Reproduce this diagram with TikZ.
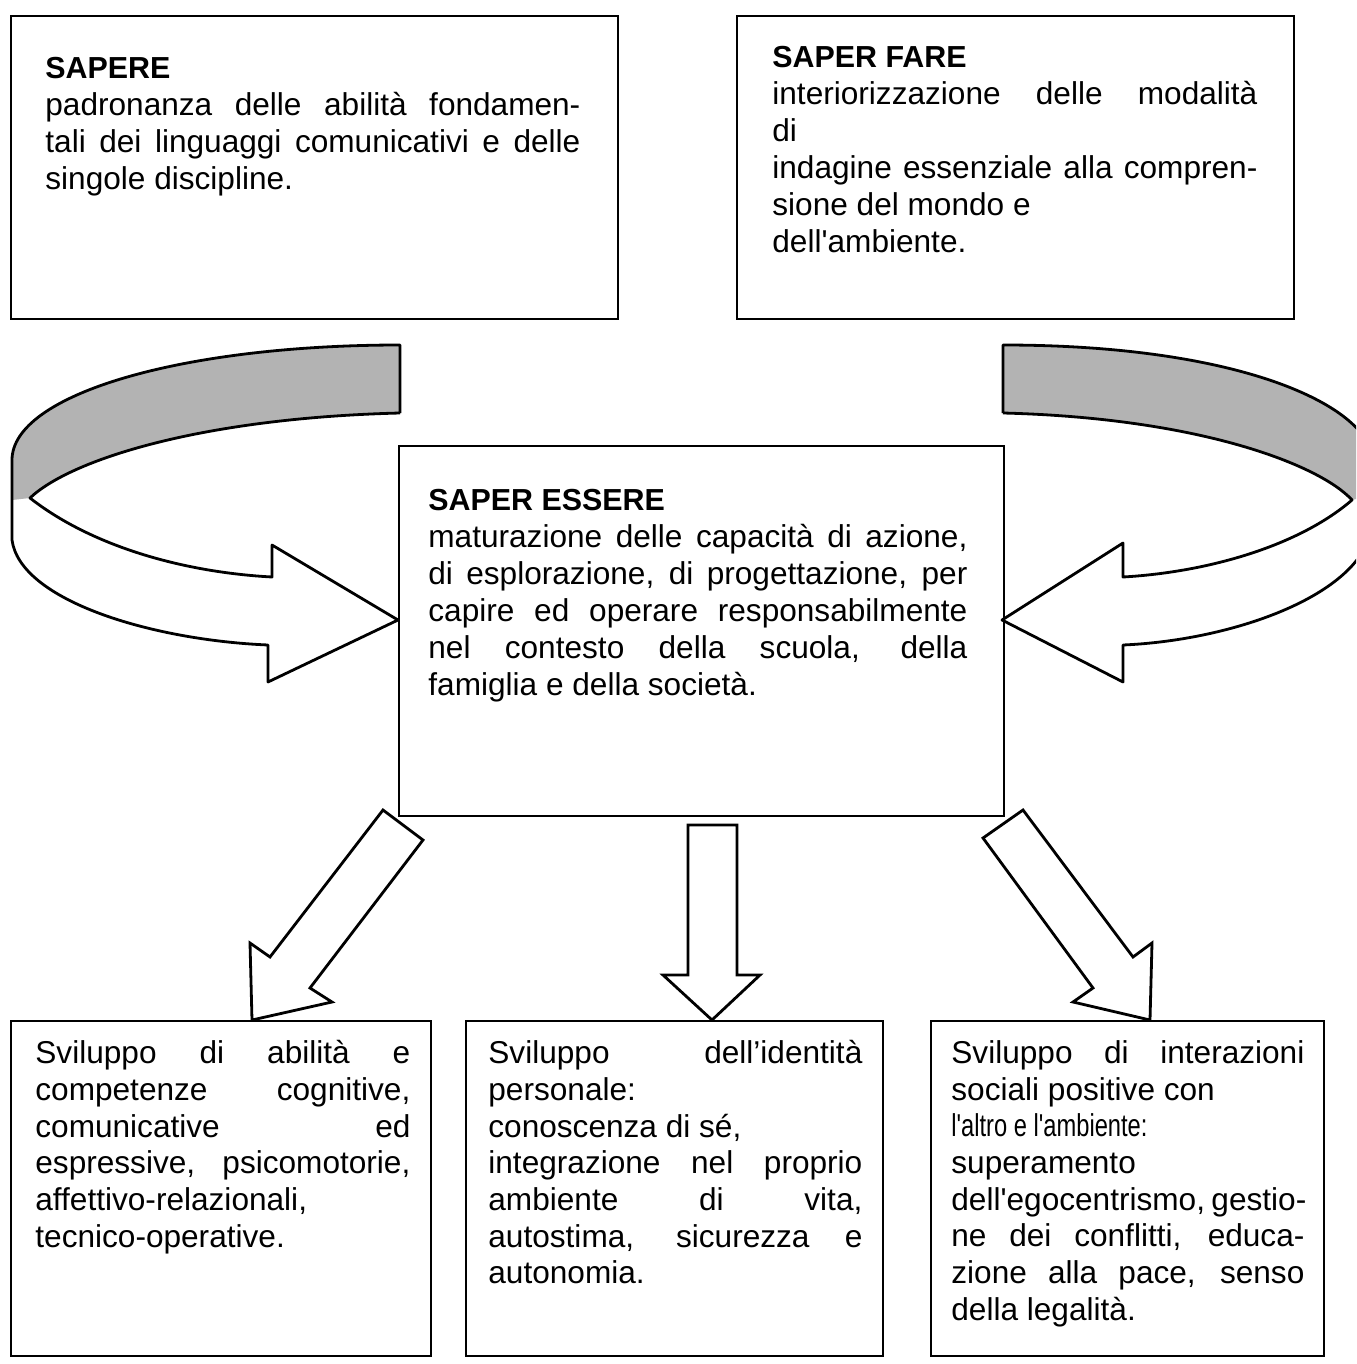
\documentclass[tikz,border=0pt]{standalone}
\usepackage{fontspec}
\setmainfont{Liberation Sans}[Ligatures=TeXOff]
\usepackage{graphicx}
\newcommand{\jline}[2]{\makebox[#1][s]{#2}}
\newcommand{\headtxt}[1]{{\fontsize{15.2}{18.5}\selectfont\bfseries #1}}
\definecolor{ribbongray}{RGB}{179,179,179}
\begin{document}
\begin{tikzpicture}[x=0.5pt,y=-0.5pt,
  box/.style={draw, line width=1pt, inner sep=0pt, anchor=north west},
  txt/.style={font=\fontsize{15.8}{18.5}\selectfont, align=left, inner sep=0pt, anchor=north west},
  btxt/.style={font=\fontsize{15.8}{18.35}\selectfont, align=left, inner sep=0pt, anchor=north west},
  bigarrow/.style={draw, line width=1.4pt, fill=white, line join=miter},
  ribbon/.style={draw, line width=1.4pt, line join=round}]
\useasboundingbox (0,0) rectangle (1356,1364);

% boxes
\node[box, minimum width=303.5pt, minimum height=151.5pt] (sapere) at (10,15) {};
\node[box, minimum width=278.5pt, minimum height=151.5pt] (fare) at (736,15) {};
\node[box, minimum width=302.5pt, minimum height=185pt] (essere) at (398,445) {};
\node[box, minimum width=210pt, minimum height=167.5pt] (b1) at (10,1020) {};
\node[box, minimum width=208.5pt, minimum height=167.5pt] (b2) at (465,1020) {};
\node[box, minimum width=196.5pt, minimum height=167.5pt] (b3) at (930,1020) {};

% texts
\node[txt] (tsapere) at (45,57) {\headtxt{SAPERE}\\
\jline{267.5pt}{padronanza delle abilità fondamen-}\\
\jline{267.5pt}{tali dei linguaggi comunicativi e delle}\\
singole discipline.};

\node[txt] (tfare) at (772,46) {\headtxt{SAPER FARE}\\
\jline{242.5pt}{interiorizzazione delle modalità}\\
di\\
\jline{242.5pt}{indagine essenziale alla compren-}\\
sione del mondo e\\
dell'ambiente.};

\node[txt] (tessere) at (428,489) {\headtxt{SAPER ESSERE}\\
\jline{269.5pt}{maturazione delle capacità di azione,}\\
\jline{269.5pt}{di esplorazione, di progettazione, per}\\
\jline{269.5pt}{capire ed operare responsabilmente}\\
\jline{269.5pt}{nel contesto della scuola, della}\\
famiglia e della società.};

\node[btxt] (tb1) at (35,1040) {\jline{187.5pt}{Sviluppo di abilità e}\\
\jline{187.5pt}{competenze cognitive,}\\
\jline{187.5pt}{comunicative ed}\\
\jline{187.5pt}{espressive, psicomotorie,}\\
affettivo-relazionali,\\
tecnico-operative.};

\node[btxt] (tb2) at (488,1040) {\jline{187pt}{Sviluppo dell’identità}\\
personale:\\
conoscenza di sé,\\
\jline{187pt}{integrazione nel proprio}\\
\jline{187pt}{ambiente di vita,}\\
\jline{187pt}{autostima, sicurezza e}\\
autonomia.};

\node[btxt] (tb3) at (951,1040) {\jline{176.5pt}{Sviluppo di interazioni}\\
sociali positive con\\
\scalebox{0.75}[1]{l'altro e l'ambiente:}\\
superamento\\
\jline{176.5pt}{dell'egocentrismo, gestio-}\\
\jline{176.5pt}{ne dei conflitti, educa-}\\
\jline{176.5pt}{zione alla pace, senso}\\
della legalità.};

% left curved arrow
\fill[ribbongray] (400,345) .. controls (180,345) and (12,395) .. (12,460) -- (12,500) -- (30,498)
  .. controls (70,460) and (200,418) .. (400,413) -- cycle;
\draw[ribbon] (400,413) -- (400,345) .. controls (180,345) and (12,395) .. (12,460) -- (12,540)
  .. controls (20,600) and (150,640) .. (268,645) -- (268,682) -- (398,620) -- (272,545) -- (272,577)
  .. controls (180,572) and (90,545) .. (30,498)
  .. controls (70,460) and (200,418) .. (400,413);

% right curved arrow (cut by the page edge)
\begin{scope}
\clip (0,0) rectangle (1356,1364);
\fill[ribbongray] (1003,345) .. controls (1250,345) and (1372,410) .. (1372,460) -- (1372,495) -- (1352,500)
  .. controls (1320,465) and (1200,418) .. (1003,413) -- cycle;
\draw[ribbon] (1003,413) -- (1003,345) .. controls (1250,345) and (1372,410) .. (1372,460) -- (1372,520)
  .. controls (1372,590) and (1240,640) .. (1123,645) -- (1123,682) -- (1002,620) -- (1123,543) -- (1123,577)
  .. controls (1210,572) and (1300,545) .. (1352,500)
  .. controls (1320,465) and (1200,418) .. (1003,413);
\end{scope}

% down arrows
\draw[bigarrow] (383,810) -- (423,840) -- (310,988) -- (332,1002) -- (252,1020) -- (250,943) -- (270,957) -- cycle;
\draw[bigarrow] (688,825) -- (737,825) -- (737,975) -- (760,975) -- (712,1020) -- (663,975) -- (688,975) -- cycle;
\draw[bigarrow] (1023,810) -- (1133,957) -- (1152,943) -- (1150,1020) -- (1073,1002) -- (1093,988) -- (983,838) -- cycle;
\end{tikzpicture}
\end{document}
